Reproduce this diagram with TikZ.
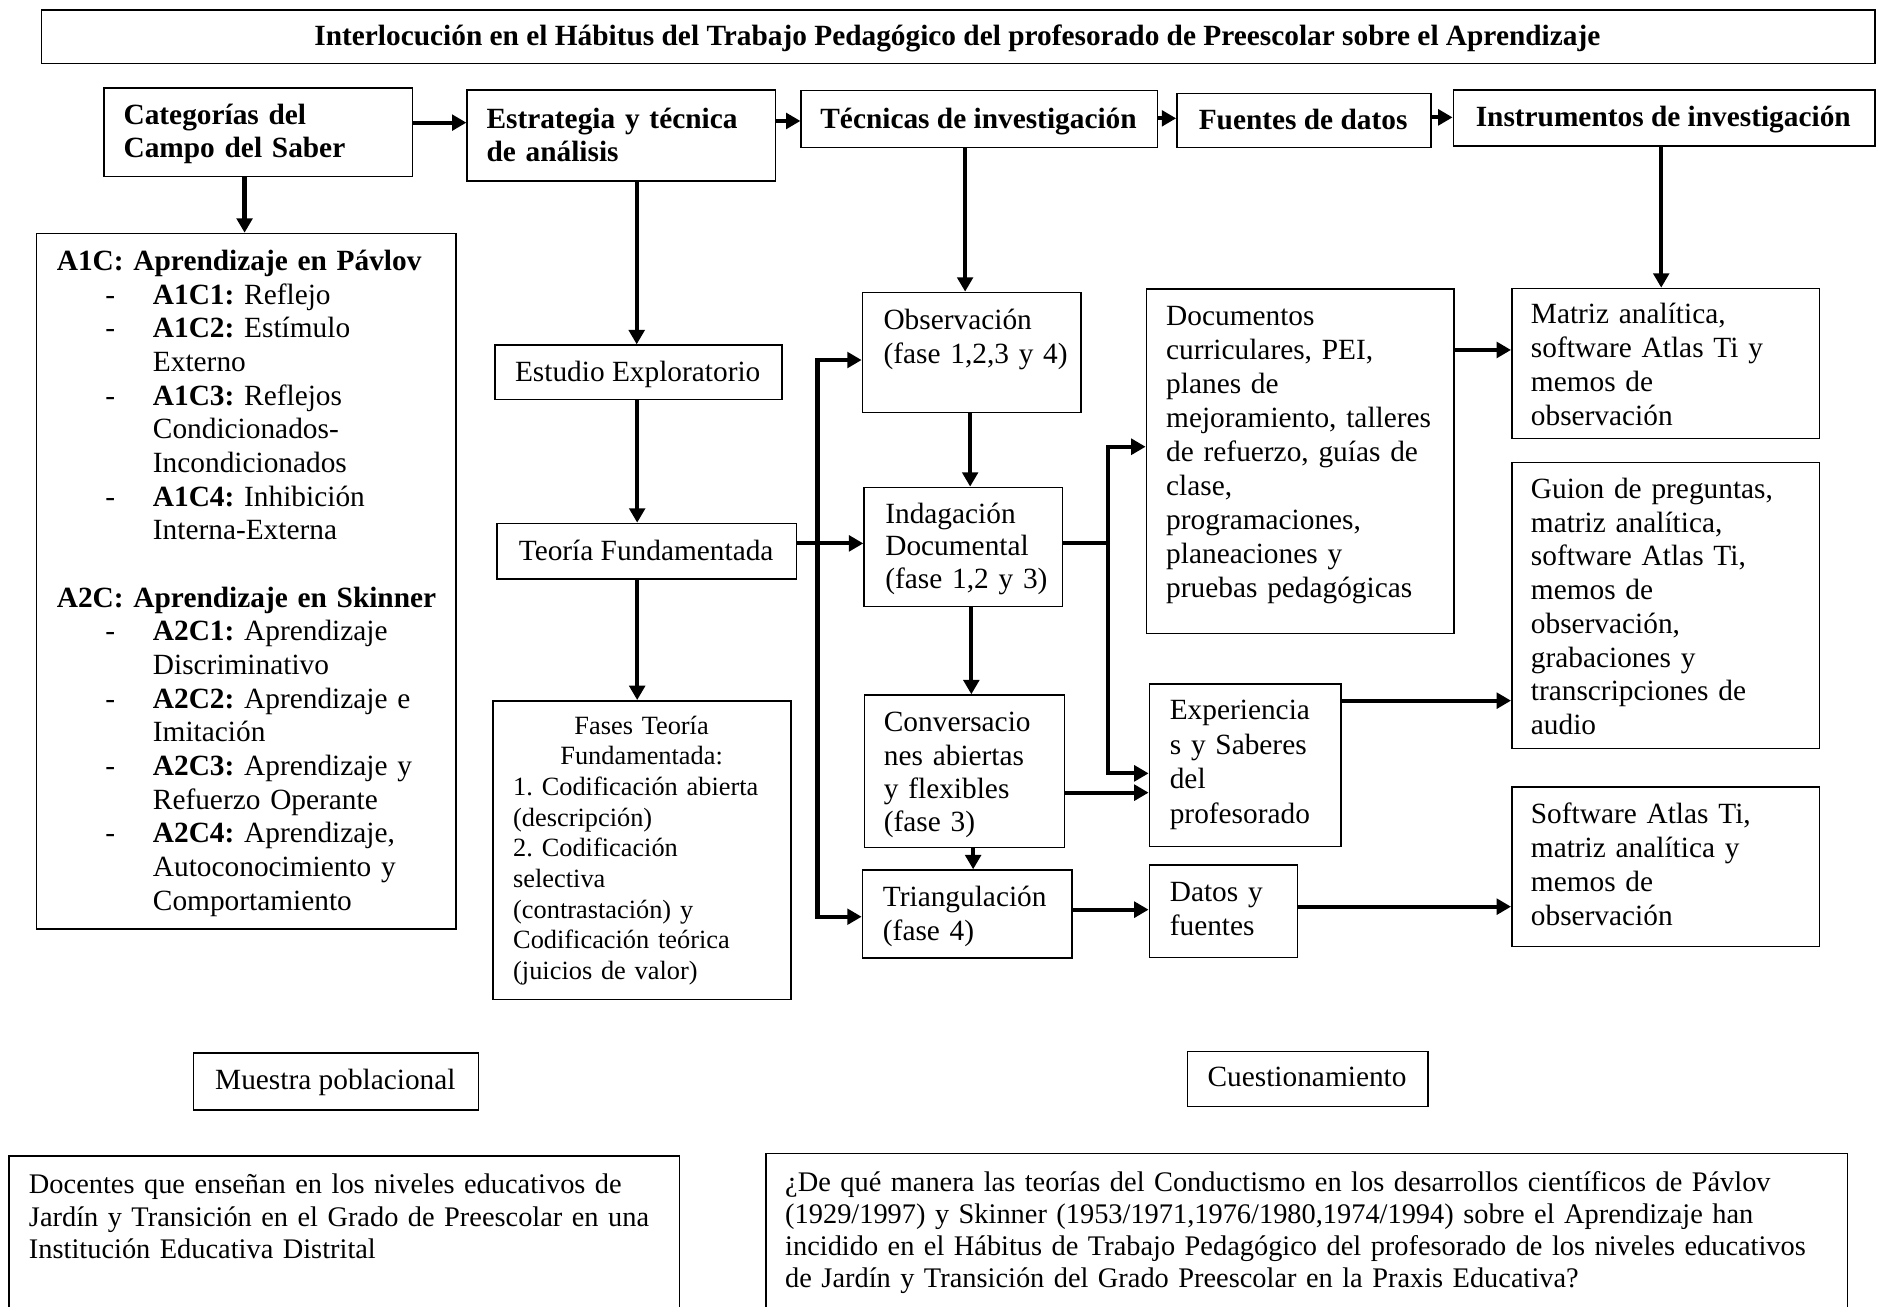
\documentclass[tikz,border=0pt]{standalone}
\usepackage{fontspec}
\setmainfont{Liberation Serif}
\usetikzlibrary{arrows.meta}
\frenchspacing
\newcommand\mkbox[5]{\node[bx,minimum width=#4pt-#2pt,minimum height=#5pt-#3pt] (#1) at (#2,#3) {};}
\newcommand\dashit{\hspace*{40.5pt}\makebox[39.7pt][l]{-}}
\newcommand\indit{\hspace*{80.2pt}}
\tikzset{
  bx/.style={draw, line width=1.3pt, inner sep=0pt, anchor=north west, fill=white},
  txt/.style={inner sep=0pt, anchor=base west, align=left, text width=420pt,
              font=\fontsize{24.5}{#1}\selectfont},
  txt/.default=28,
  btxt/.style={inner sep=0pt, anchor=base west, align=left, text width=420pt,
              font=\fontsize{24.5}{#1}\selectfont\bfseries},
  btxt/.default=27.5,
  ctxt/.style={inner sep=0pt, anchor=base, font=\fontsize{24.5}{28}\selectfont},
  cbtxt/.style={inner sep=0pt, anchor=base, font=\fontsize{24.5}{28}\selectfont\bfseries},
  stxt/.style={inner sep=0pt, anchor=base west, align=left, text width=#1,
              font=\fontsize{23.7}{27.3}\selectfont},
  conn/.style={line width=3.5pt, -{Triangle[length=12pt,width=13pt]}},
  ln/.style={line width=3.5pt},
}
\begin{document}
\begin{tikzpicture}[x=1pt,y=-1pt]
\path[use as bounding box] (0,0) rectangle (1568,1091);
\clip (0,0) rectangle (1568,1091);
\fill[white] (0,0) rectangle (1568,1091);
% boxes
\mkbox{title}{34}{7.5}{1564.6}{52.3}
\mkbox{cat}{86.3}{72.9}{343.7}{146.7}
\mkbox{est}{389.4}{74.6}{646.7}{150.3}
\mkbox{tec}{668.3}{75}{965.6}{122.5}
\mkbox{fue}{982}{77.4}{1194}{122.5}
\mkbox{ins}{1212.8}{74.6}{1564.7}{121.1}
\mkbox{lbox}{30}{194.3}{380}{775}
\mkbox{estu}{412.5}{287.5}{652.3}{333}
\mkbox{tf}{414.5}{436.4}{664.5}{482.9}
\mkbox{fases}{411}{584.5}{660}{834}
\mkbox{obs}{719.4}{243.5}{901.7}{343.7}
\mkbox{ind}{720.8}{406.3}{886.4}{505.7}
\mkbox{conv}{721}{579.7}{888}{707}
\mkbox{tri}{719.4}{725.8}{894.2}{799}
\mkbox{doc}{956.5}{240.7}{1213.4}{528.2}
\mkbox{exp}{959}{570.5}{1119}{706.1}
\mkbox{dat}{959}{721.7}{1082.5}{798.8}
\mkbox{mat}{1261.6}{240.2}{1518.4}{365.4}
\mkbox{gui}{1261.6}{385.5}{1518.4}{624.3}
\mkbox{sof}{1261.6}{656.3}{1518.4}{789.6}
\mkbox{mue}{161}{878.6}{399}{926.2}
\mkbox{cue}{991}{877.2}{1191.6}{923.2}
\mkbox{doce}{7}{964.3}{566.7}{1110}
\mkbox{preg}{639}{962.4}{1541.9}{1110}
% texts
\node[inner sep=0pt, anchor=base, font=\fontsize{24.5}{28}\selectfont\bfseries] (ttitle) at (799.3,38)
  {Interlocución en el Hábitus del Trabajo Pedagógico del profesorado de Preescolar sobre el Aprendizaje};
\node[btxt] (tcat) at (103,104) {Categorías del\\Campo del Saber};
\node[btxt] (test) at (406,107) {Estrategia y técnica\\de análisis};
\node[cbtxt] (ttec) at (817,107) {Técnicas de investigación};
\node[cbtxt] (tfue) at (1088,108) {Fuentes de datos};
\node[cbtxt] (tins) at (1388.7,106) {Instrumentos de investigación};
\node[txt=28.1] (tlbox) at (47.3,226) {\textbf{A1C: Aprendizaje en Pávlov}\\
\dashit\textbf{A1C1:} Reflejo\\
\dashit\textbf{A1C2:} Estímulo\\
\indit Externo\\
\dashit\textbf{A1C3:} Reflejos\\
\indit Condicionados-\\
\indit Incondicionados\\
\dashit\textbf{A1C4:} Inhibición\\
\indit Interna-Externa\\
\mbox{}\\
\textbf{A2C: Aprendizaje en Skinner}\\
\dashit\textbf{A2C1:} Aprendizaje\\
\indit Discriminativo\\
\dashit\textbf{A2C2:} Aprendizaje e\\
\indit Imitación\\
\dashit\textbf{A2C3:} Aprendizaje y\\
\indit Refuerzo Operante\\
\dashit\textbf{A2C4:} Aprendizaje,\\
\indit Autoconocimiento y\\
\indit Comportamiento};
\node[ctxt] (testu) at (532.4,318.5) {Estudio Exploratorio};
\node[ctxt] (ttf) at (539.5,467.6) {Teoría Fundamentada};
\node[txt, text width=214.4pt, font=\fontsize{22}{25.6}\selectfont] (tfases) at (428.3,613)
  {\makebox[\linewidth]{Fases Teoría}\\\makebox[\linewidth]{Fundamentada:}\\1. Codificación abierta\\(descripción)\\2. Codificación\\selectiva\\(contrastación) y\\Codificación teórica\\(juicios de valor)};
\node[txt=27.8] (tobs) at (737.5,275.5) {Observación\\(fase 1,2,3 y 4)};
\node[txt=27.1] (tind) at (739,437) {Indagación\\Documental\\(fase 1,2 y 3)};
\node[txt=27.8] (tconv) at (737.8,611) {Conversacio\\nes abiertas\\y flexibles\\(fase 3)};
\node[txt=28] (ttri) at (737,757) {Triangulación\\(fase 4)};
\node[txt=28.4] (tdoc) at (973.5,271.4) {Documentos\\curriculares, PEI,\\planes de\\mejoramiento, talleres\\de refuerzo, guías de\\clase,\\programaciones,\\planeaciones y\\pruebas pedagógicas};
\node[txt=28.8] (texp) at (976.5,601) {Experiencia\\s y Saberes\\del\\profesorado};
\node[txt=27.8] (tdat) at (976.5,753) {Datos y\\fuentes};
\node[txt=28.3] (tmat) at (1278,270) {Matriz analítica,\\software Atlas Ti y\\memos de\\observación};
\node[txt=28.2] (tgui) at (1278,416) {Guion de preguntas,\\matriz analítica,\\software Atlas Ti,\\memos de\\observación,\\grabaciones y\\transcripciones de\\audio};
\node[txt=28.3] (tsof) at (1278,687.5) {Software Atlas Ti,\\matriz analítica y\\memos de\\observación};
\node[ctxt] (tmue) at (280,909.5) {Muestra poblacional};
\node[ctxt] (tcue) at (1091.3,907) {Cuestionamiento};
\node[stxt=540pt] (tdoce) at (24,996.4) {Docentes que enseñan en los niveles educativos de\\Jardín y Transición en el Grado de Preescolar en una\\Institución Educativa Distrital};
\node[stxt=900pt, font=\fontsize{23.7}{26.6}\selectfont] (tpreg) at (655.4,995) {¿De qué manera las teorías del Conductismo en los desarrollos científicos de Pávlov\\(1929/1997) y Skinner (1953/1971,1976/1980,1974/1994) sobre el Aprendizaje han\\incidido en el Hábitus de Trabajo Pedagógico del profesorado de los niveles educativos\\de Jardín y Transición del Grado Preescolar en la Praxis Educativa?};
% connectors
\draw[conn] (cat.east |- 0,102.4) -- (est.west |- 0,102.4);
\draw[conn] (est.east |- 0,101) -- (tec.west |- 0,101);
\draw[conn] (tec.east |- 0,98.8) -- (fue.west |- 0,98.8);
\draw[conn] (fue.east |- 0,98) -- (ins.west |- 0,98);
\draw[conn] (cat.south -| 204.2,0) -- (lbox.north -| 204.2,0);
\draw[conn] (est.south -| 531.6,0) -- (estu.north -| 531.6,0);
\draw[conn] (estu.south -| 532,0) -- (tf.north -| 532,0);
\draw[conn] (tf.south -| 532,0) -- (fases.north -| 532,0);
\draw[conn] (tec.south -| 805.8,0) -- (obs.north -| 805.8,0);
\draw[conn] (obs.south -| 810,0) -- (ind.north -| 810,0);
\draw[conn] (ind.south -| 811,0) -- (conv.north -| 811,0);
\draw[conn] (conv.south -| 812.5,0) -- (tri.north -| 812.5,0);
\coordinate (jl) at (682.5,453.7);
\draw[ln] (tf.east |- jl) -- (jl);
\draw[conn] (jl) -- (ind.west |- jl);
\draw[conn] (jl) |- (obs.west |- 0,300.6);
\draw[conn] (jl) |- (tri.west |- 0,765.4);
\coordinate (jr) at (925.4,453.7);
\draw[ln] (ind.east |- jr) -- (jr);
\draw[conn] (jr) |- (doc.west |- 0,373);
\draw[conn] (jr) |- (exp.west |- 0,645.7);
\draw[conn] (conv.east |- 0,661.8) -- (exp.west |- 0,661.8);
\draw[conn] (tri.east |- 0,759.5) -- (dat.west |- 0,759.5);
\draw[conn] (doc.east |- 0,292.2) -- (mat.west |- 0,292.2);
\draw[conn] (ins.south -| 1387,0) -- (mat.north -| 1387,0);
\draw[conn] (exp.east |- 0,585) -- (gui.west |- 0,585);
\draw[conn] (dat.east |- 0,757) -- (sof.west |- 0,757);
\end{tikzpicture}
\end{document}
